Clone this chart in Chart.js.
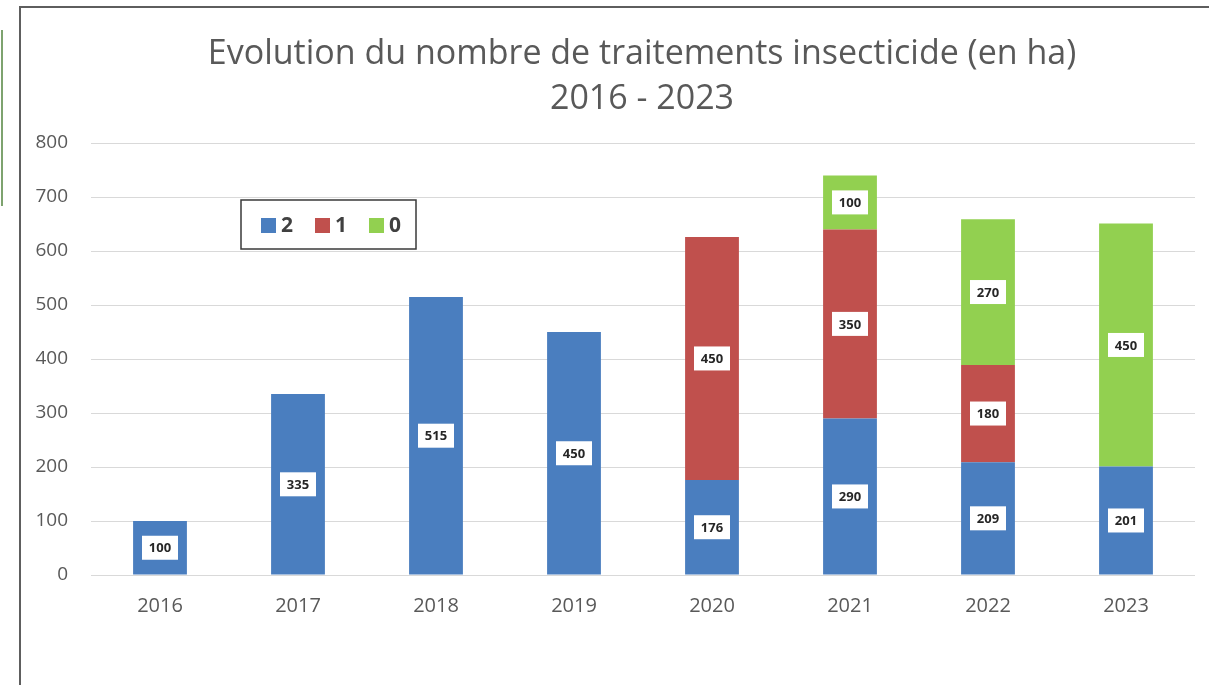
<!DOCTYPE html>
<html>
<head>
<meta charset="utf-8">
<script src="https://cdn.jsdelivr.net/npm/chart.js@4"></script>
<style>
  html, body { margin: 0; padding: 0; background: #fff; overflow: hidden; width: 1209px; height: 685px; }
  #frame { position: absolute; left: 19px; top: 6px; width: 1200px; height: 700px; border-left: 2px solid #5e5e5e; border-top: 2px solid #5e5e5e; }
  #side { position: absolute; left: 1px; top: 30px; width: 2px; height: 176px; background: #7ea36f; }
  #wrap { position: absolute; left: 22px; top: 9px; width: 1240px; height: 676px; }
</style>
</head>
<body>
<div id="side"></div>
<div id="frame"></div>
<div id="wrap"><canvas id="c" width="1240" height="676"></canvas></div>
<script>
const categories = ['2016', '2017', '2018', '2019', '2020', '2021', '2022', '2023'];
const seriesNames = ['2', '1', '0'];
const values2 = [100, 335, 515, 450, 176, 290, 209, 201];
const values1 = [0, 0, 0, 0, 450, 350, 180, 0];
const values0 = [0, 0, 0, 0, 0, 100, 270, 450];
const seriesColors = ['#4A7EBF', '#C0504D', '#92D050'];
const titleLines = ['Evolution du nombre de traitements insecticide (en ha)', '2016 - 2023'];
const yTicks = { min: 0, max: 800, step: 100 };

const FONT = "'Open Sans', 'Liberation Sans', sans-serif";

const titlePlugin = {
  id: 'centeredTitle',
  afterDraw(chart) {
    const ctx = chart.ctx;
    ctx.save();
    ctx.font = '34px ' + FONT;
    ctx.fillStyle = '#595959';
    ctx.textAlign = 'center';
    ctx.textBaseline = 'middle';
    titleLines.forEach((t, i) => ctx.fillText(t, chart.width / 2, 45.5 + i * 45));
    ctx.restore();
  }
};

const labelPlugin = {
  id: 'barLabels',
  afterDatasetsDraw(chart) {
    const ctx = chart.ctx;
    ctx.save();
    ctx.font = 'bold 13px ' + FONT;
    ctx.textAlign = 'center';
    ctx.textBaseline = 'middle';
    chart.data.datasets.forEach((ds, di) => {
      const meta = chart.getDatasetMeta(di);
      meta.data.forEach((bar, i) => {
        const v = ds.data[i];
        if (!v) return;
        const cy = (bar.y + bar.base) / 2;
        const w = 36, h = 24;
        ctx.fillStyle = '#ffffff';
        ctx.fillRect(bar.x - w / 2, cy - h / 2, w, h);
        ctx.fillStyle = '#262626';
        ctx.fillText(String(v), bar.x, cy + 1);
      });
    });
    ctx.restore();
  }
};

const legendPlugin = {
  id: 'floatLegend',
  afterDraw(chart) {
    const ctx = chart.ctx;
    const ox = 241 - 22, oy = 200 - 9;
    ctx.save();
    ctx.fillStyle = '#fff';
    ctx.fillRect(ox, oy, 175, 49);
    ctx.strokeStyle = '#3a3a3a';
    ctx.lineWidth = 1.5;
    ctx.strokeRect(ox, oy, 175, 49);
    ctx.font = 'bold 21px ' + FONT;
    ctx.textBaseline = 'middle';
    ctx.textAlign = 'left';
    const cy = oy + 25;
    chart.data.datasets.forEach((ds, i) => {
      const x = ox + 20 + i * 54;
      ctx.fillStyle = ds.backgroundColor;
      ctx.fillRect(x, cy - 7, 15, 15);
      ctx.fillStyle = '#404040';
      ctx.fillText(ds.label, x + 20, cy + 1);
    });
    ctx.restore();
  }
};

new Chart(document.getElementById('c'), {
  type: 'bar',
  data: {
    labels: categories,
    datasets: [
      { label: seriesNames[0], data: values2, backgroundColor: seriesColors[0] },
      { label: seriesNames[1], data: values1, backgroundColor: seriesColors[1] },
      { label: seriesNames[2], data: values0, backgroundColor: seriesColors[2] }
    ]
  },
  options: {
    responsive: false,
    animation: false,
    devicePixelRatio: 1,
    layout: { padding: { left: 0, right: 67, top: 134, bottom: 0 } },
    datasets: { bar: { barPercentage: 0.39, categoryPercentage: 1.0 } },
    plugins: {
      legend: { display: false },
      tooltip: { enabled: false },
      title: { display: false }
    },
    scales: {
      x: {
        stacked: true,
        grid: { display: false, drawTicks: false },
        border: { display: false },
        ticks: { color: '#595959', font: { family: FONT, size: 20 }, padding: 19 },
        afterFit(scale) { scale.height = 110; }
      },
      y: {
        stacked: true,
        min: yTicks.min,
        max: yTicks.max,
        grid: { color: '#d9d9d9', lineWidth: 1, drawTicks: false },
        border: { display: false },
        ticks: { stepSize: yTicks.step, color: '#595959', font: { family: FONT, size: 19 }, padding: 23 },
        afterFit(scale) { scale.width = 69; }
      }
    }
  },
  plugins: [titlePlugin, labelPlugin, legendPlugin]
});
</script>
</body>
</html>
